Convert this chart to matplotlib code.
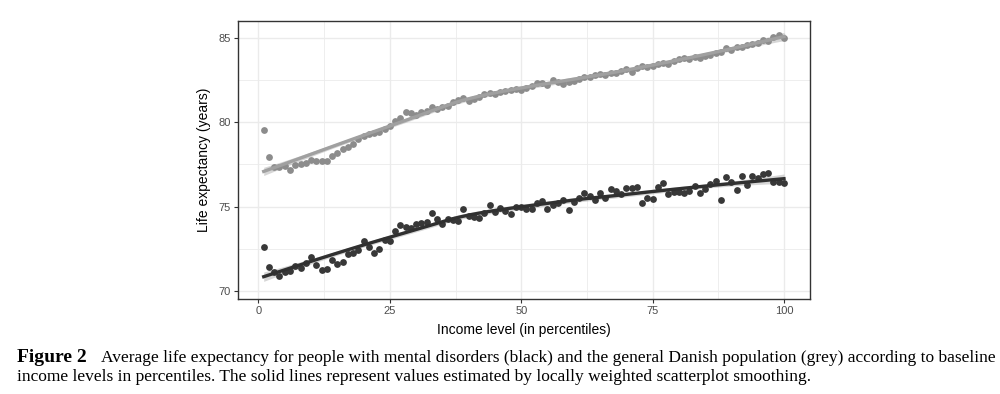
import numpy as np
import matplotlib.pyplot as plt

# income percentiles 1..100
pct = np.arange(1, 101)

# general Danish population (grey points)
pop_le = [79.53, 77.92, 77.36, 77.36, 77.40, 77.17, 77.48, 77.52, 77.56, 77.76,
          77.68, 77.68, 77.72, 78.00, 78.15, 78.42, 78.55, 78.69, 78.98, 79.18,
          79.28, 79.34, 79.42, 79.57, 79.77, 80.05, 80.27, 80.58, 80.56, 80.42,
          80.62, 80.68, 80.88, 80.76, 80.88, 80.96, 81.21, 81.31, 81.41, 81.25,
          81.35, 81.47, 81.67, 81.75, 81.67, 81.80, 81.84, 81.90, 81.96, 81.90,
          82.02, 82.14, 82.30, 82.34, 82.20, 82.50, 82.40, 82.26, 82.38, 82.46,
          82.54, 82.65, 82.69, 82.79, 82.83, 82.79, 82.89, 82.93, 83.05, 83.13,
          82.99, 83.19, 83.29, 83.25, 83.29, 83.42, 83.52, 83.44, 83.64, 83.72,
          83.78, 83.72, 83.88, 83.78, 83.92, 83.98, 84.11, 84.17, 84.37, 84.27,
          84.43, 84.47, 84.57, 84.63, 84.67, 84.86, 84.82, 85.02, 85.16, 84.96]

# people with mental disorders (black points)
md_le = [72.59, 71.44, 71.10, 70.89, 71.15, 71.21, 71.48, 71.35, 71.68, 72.03,
         71.54, 71.25, 71.29, 71.84, 71.58, 71.70, 72.17, 72.23, 72.43, 72.98,
         72.63, 72.27, 72.49, 73.02, 72.98, 73.57, 73.91, 73.81, 73.71, 73.97,
         74.05, 74.11, 74.64, 74.25, 73.97, 74.25, 74.21, 74.15, 74.84, 74.46,
         74.40, 74.34, 74.64, 75.09, 74.68, 74.90, 74.76, 74.56, 74.96, 75.00,
         74.84, 74.84, 75.23, 75.33, 74.84, 75.09, 75.23, 75.39, 74.80, 75.29,
         75.49, 75.83, 75.63, 75.39, 75.79, 75.49, 76.02, 75.94, 75.73, 76.08,
         76.08, 76.14, 75.19, 75.49, 75.45, 76.18, 76.38, 75.75, 75.88, 75.88,
         75.83, 75.94, 76.22, 75.79, 76.02, 76.32, 76.53, 75.39, 76.73, 76.48,
         76.00, 76.81, 76.26, 76.81, 76.67, 76.93, 77.01, 76.48, 76.44, 76.38]


def loess(x, y, xs, span=0.75):
    # local quadratic fit with tricube weights, like R's loess defaults
    x = np.asarray(x, float)
    y = np.asarray(y, float)
    n = len(x)
    q = int(np.floor(n * span))

    def hat_row(x0):
        d = np.abs(x - x0)
        h = np.sort(d)[q - 1]
        w = np.clip(1 - (d / h) ** 3, 0, None) ** 3
        X = np.column_stack([np.ones(n), x - x0, (x - x0) ** 2])
        A = X.T @ (w[:, None] * X)
        return np.linalg.solve(A, X.T * w)[0]

    L = np.array([hat_row(v) for v in x])
    resid = y - L @ y
    sigma = np.sqrt(np.sum(resid ** 2) / (n - np.trace(L)))
    rows = np.array([hat_row(v) for v in xs])
    fit = rows @ y
    se = sigma * np.sqrt(np.sum(rows ** 2, axis=1))
    return fit, se


xs = np.linspace(1, 100, 80)

fig = plt.figure(figsize=(10, 3.94), dpi=100)
ax = fig.add_axes([0.2377, 0.2411, 0.5723, 0.7064])

for vals, pcol, lcol in [(pop_le, '#8c8c8c', '#a0a0a0'),
                         (md_le, '#383838', '#303030')]:
    fit, se = loess(pct, vals, xs)
    ax.fill_between(xs, fit - 1.98 * se, fit + 1.98 * se,
                    color='#999999', alpha=0.4, lw=0, zorder=2)
    ax.scatter(pct, vals, s=24, color=pcol, lw=0, zorder=3)
    ax.plot(xs, fit, color=lcol, lw=2.4, zorder=4)

ax.set_xlim(-3.95, 104.95)
ax.set_ylim(69.53, 86.0)
ax.set_xticks([0, 25, 50, 75, 100])
ax.set_yticks([70, 75, 80, 85])
ax.set_xticks([12.5, 37.5, 62.5, 87.5], minor=True)
ax.set_yticks([72.5, 77.5, 82.5], minor=True)
ax.grid(True, which='major', color='#ebebeb', lw=1.0, zorder=0)
ax.grid(True, which='minor', color='#ebebeb', lw=0.6, zorder=0)
ax.set_axisbelow(True)
for s in ax.spines.values():
    s.set_color('#333333')
    s.set_linewidth(1.0)
ax.tick_params(which='major', length=3, width=0.8, color='#333333',
               labelsize=8, labelcolor='#4d4d4d', pad=2)
ax.tick_params(which='minor', length=0)
for lab in ax.get_xticklabels() + ax.get_yticklabels():
    lab.set_family('Liberation Sans')

ax.set_xlabel('Income level (in percentiles)', family='Liberation Sans',
              fontsize=10, labelpad=5)
ax.set_ylabel('Life expectancy (years)', family='Liberation Sans',
              fontsize=10, labelpad=5)

fig.text(0.017, 0.081, 'Figure 2', fontsize=14, fontweight='bold',
         family='Liberation Serif', va='baseline')
fig.text(0.101, 0.081,
         'Average life expectancy for people with mental disorders (black) '
         'and the general Danish population (grey) according to baseline',
         fontsize=12.5, family='Liberation Serif', va='baseline')
fig.text(0.017, 0.033,
         'income levels in percentiles. The solid lines represent values '
         'estimated by locally weighted scatterplot smoothing.',
         fontsize=12.5, family='Liberation Serif', va='baseline')

fig.savefig('out.png', dpi=100)
